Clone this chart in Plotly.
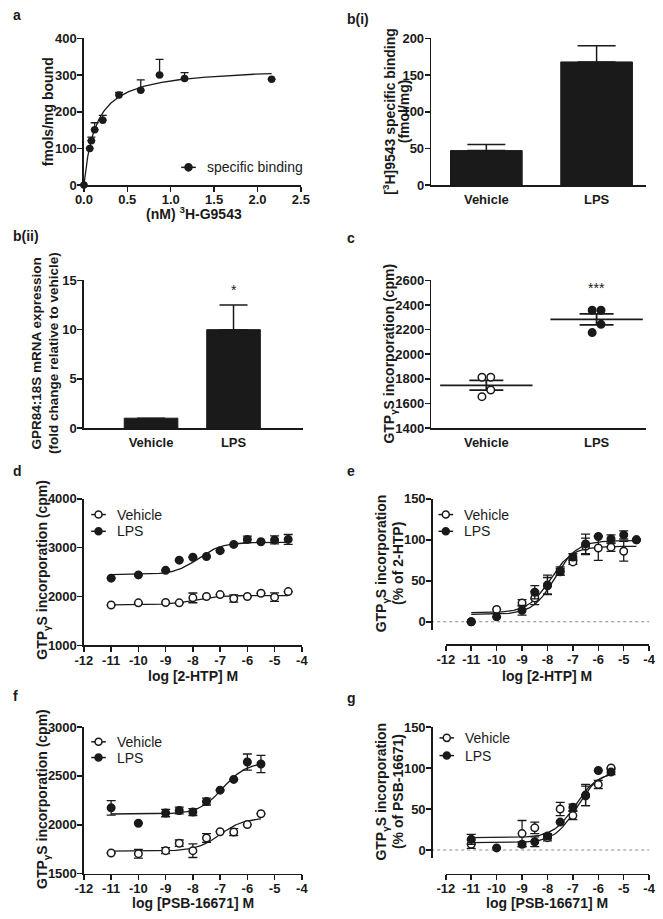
import numpy as np
import plotly.graph_objects as go

W, H = 663, 919
FONT = "Liberation Sans, Arial, sans-serif"
INK = "#1a1a1a"

# ---------------- data ----------------
# a: saturation binding
a_conc = [0.0, 0.067, 0.086, 0.124, 0.217, 0.404, 0.655, 0.872, 1.16, 2.163]
a_bound = [0, 100, 121, 151, 177, 246, 259, 300, 291, 289]
a_err_up = [0, 0, 10, 19, 13, 7, 28, 43, 16, 0]
a_fit = {"Bmax": 324, "Kd": 0.14}

groups = ["Vehicle", "LPS"]
# b(i)
bi_mean = [47, 168]
bi_sem = [8.5, 22]
# b(ii)
bii_mean = [1.0, 10.0]
bii_sem = [0, 2.5]
# c
c_vehicle = [1813, 1813, 1709, 1655]
c_lps = [2358, 2358, 2243, 2176]
c_jitter = [-0.04, 0.04, 0.04, -0.04]

# d: 2-HTP, cpm
log_2htp = [-11, -10, -9, -8.5, -8, -7.5, -7, -6.5, -6, -5.5, -5, -4.5]
d_veh = [1826, 1872, 1879, 1872, 1973, 2000, 2040, 1960, 2000, 2067, 1987, 2101]
d_veh_err = [0, 0, 0, 0, 100, 0, 0, 75, 0, 0, 87, 0]
d_lps = [2376, 2443, 2537, 2745, 2805, 2819, 2940, 3067, 3170, 3121, 3160, 3170]
d_lps_err = [0, 0, 0, 0, 0, 0, 0, 0, 65, 0, 80, 100]
d_fit_veh = {"bottom": 1830, "top": 2020, "logec50": -8.0}
d_fit_lps = {"bottom": 2450, "top": 3110, "logec50": -7.8}

# e: 2-HTP, % of 2-HTP
e_veh = [0, 15, 23, 29, 45, 61, 73, 92, 90, 91, 86, 100]
e_veh_err = [0, 0, 4, 8, 12, 4, 3, 10, 15, 5, 12, 0]
e_lps = [0, 6, 14, 36, 44, 62, 79, 95, 104, 101, 106, 100]
e_lps_err = [0, 0, 6, 8, 10, 5, 4, 12, 0, 5, 5, 0]
e_fit_veh = {"bottom": 11, "top": 92, "logec50": -7.9}
e_fit_lps = {"bottom": 9, "top": 99, "logec50": -7.7}

# f: PSB-16671, cpm
log_psb = [-11, -10, -9, -8.5, -8, -7.5, -7, -6.5, -6, -5.5]
f_veh = [1711, 1704, 1735, 1811, 1735, 1865, 1929, 1925, 2002, 2113]
f_veh_err = [0, 45, 30, 33, 70, 45, 0, 35, 0, 0]
f_lps = [2173, 2016, 2120, 2146, 2130, 2237, 2354, 2464, 2642, 2622]
f_lps_err = [75, 0, 38, 35, 35, 35, 0, 0, 82, 88]
f_fit_veh = {"bottom": 1730, "top": 2070, "logec50": -7.0}
f_fit_lps = {"bottom": 2110, "top": 2640, "logec50": -6.9}

# g: PSB-16671, % of PSB-16671
g_veh = [7, None, 20, 27, 15, 50, 42, 66, 80, 100]
g_veh_err = [5, 0, 16, 7, 4, 8, 5, 12, 5, 0]
g_lps = [13, 2.5, 7, 10, 17, 34, 52, 67, 97, 95]
g_lps_err = [6, 0, 3, 6, 3, 0, 4, 13, 0, 3]
g_fit_veh = {"bottom": 15, "top": 95, "logec50": -6.9}
g_fit_lps = {"bottom": 9, "top": 96, "logec50": -6.85}

# tick values
a_xticks = [0, 0.5, 1, 1.5, 2, 2.5]
a_yticks = [0, 100, 200, 300, 400]
bi_yticks = [0, 50, 100, 150, 200]
bii_yticks = [0, 5, 10, 15]
c_yticks = [1400, 1600, 1800, 2000, 2200, 2400, 2600]
d_yticks = [1000, 2000, 3000, 4000]
f_yticks = [1500, 2000, 2500, 3000]
pct_yticks = [0, 50, 100, 150]
log_xticks = [-12, -11, -10, -9, -8, -7, -6, -5, -4]


# ---------------- helpers ----------------
def px(x):
    return x / W


def py(y):
    return 1 - y / H


def sigmoid(p, lo, hi):
    xs = np.linspace(lo, hi, 200)
    ys = p["bottom"] + (p["top"] - p["bottom"]) / (1 + 10 ** (p["logec50"] - xs))
    return xs, ys


def bold_labels(vals, fmt="{:g}"):
    return ["<b>" + fmt.format(v) + "</b>" for v in vals]


def axis(tickvals, ticktext=None, **kw):
    d = dict(showline=True, linecolor=INK, linewidth=1.5, ticks="outside",
             ticklen=5, tickwidth=1.5, tickcolor=INK, showgrid=False,
             zeroline=False, fixedrange=True, tickvals=tickvals,
             ticktext=ticktext if ticktext is not None else bold_labels(tickvals),
             tickfont=dict(family=FONT, size=13, color=INK))
    d.update(kw)
    return d


def xaxis(tickvals, ticktext=None, **kw):
    kw.setdefault("ticklabelstandoff", -3)
    return axis(tickvals, ticktext, **kw)


def yaxis(tickvals, ticktext=None, **kw):
    kw.setdefault("ticklabelstandoff", -2)
    return axis(tickvals, ticktext, **kw)


fig = go.Figure()
annotations = []
shapes = []


def ann(text, x, y, size=14, bold=True, angle=0, xanchor="center", yanchor="middle"):
    annotations.append(dict(
        text="<b>" + text + "</b>" if bold else text, x=px(x), y=py(y),
        xref="paper", yref="paper",
        showarrow=False, textangle=angle, xanchor=xanchor, yanchor=yanchor,
        font=dict(family=FONT, size=size, color=INK)))


def legend_entry(cx, cy, label, filled):
    shapes.append(dict(type="line", xref="paper", yref="paper",
                       x0=px(cx - 7.5), x1=px(cx + 7.5), y0=py(cy), y1=py(cy),
                       line=dict(color=INK, width=1.5)))
    r = 3.6
    shapes.append(dict(type="circle", xref="paper", yref="paper",
                       x0=px(cx - r), x1=px(cx + r), y0=py(cy - r), y1=py(cy + r),
                       fillcolor=INK if filled else "white",
                       line=dict(color=INK, width=1.5)))
    ann(label, cx + 17, cy, size=14, bold=False, xanchor="left")


def points(x, y, err, filled, xa, ya, size=7.5):
    fig.add_trace(go.Scatter(
        x=x, y=y, mode="markers", xaxis=xa, yaxis=ya, cliponaxis=False,
        marker=dict(symbol="circle", size=size, color=INK if filled else "white",
                    line=dict(color=INK, width=1.5)),
        error_y=dict(type="data", array=err, color=INK, thickness=1.3, width=4.5),
        showlegend=False))


def curve(xs, ys, xa, ya):
    fig.add_trace(go.Scatter(x=xs, y=ys, mode="lines", xaxis=xa, yaxis=ya,
                             line=dict(color=INK, width=1.3), showlegend=False,
                             hoverinfo="skip"))


# ---------------- panel a ----------------
xs = np.linspace(0, max(a_conc), 200)
curve(xs, a_fit["Bmax"] * xs / (a_fit["Kd"] + xs), "x", "y")
fig.add_trace(go.Scatter(
    x=a_conc, y=a_bound, mode="markers", xaxis="x", yaxis="y", cliponaxis=False,
    marker=dict(symbol="circle", size=7.5, color=INK),
    error_y=dict(type="data", symmetric=False, array=a_err_up,
                 arrayminus=[0] * len(a_err_up), color=INK, thickness=1.3, width=4),
    showlegend=False))

# ---------------- panel b(i) ----------------
fig.add_trace(go.Bar(
    x=[0, 1], y=bi_mean, width=0.65, xaxis="x2", yaxis="y2",
    marker=dict(color=INK, line=dict(color=INK, width=1)),
    error_y=dict(type="data", symmetric=False, array=bi_sem, arrayminus=[0, 0],
                 color=INK, thickness=1.5, width=19),
    showlegend=False))

# ---------------- panel b(ii) ----------------
fig.add_trace(go.Bar(
    x=[0, 1], y=bii_mean, width=0.65, xaxis="x3", yaxis="y3",
    marker=dict(color=INK, line=dict(color=INK, width=1)),
    error_y=dict(type="data", symmetric=False, array=bii_sem, arrayminus=[0, 0],
                 color=INK, thickness=1.5, width=14),
    showlegend=False))

# ---------------- panel c ----------------
c_sets = [c_vehicle, c_lps]
c_means = [float(np.mean(v)) for v in c_sets]
c_sems = [float(np.std(v, ddof=1) / np.sqrt(len(v))) for v in c_sets]
fig.add_trace(go.Scatter(
    x=[0, 1], y=c_means, mode="markers", xaxis="x4", yaxis="y4",
    marker=dict(symbol="line-ew", size=66, color=INK, line=dict(color=INK, width=1.8)),
    error_y=dict(type="data", array=c_sems, color=INK, thickness=1.8, width=17),
    showlegend=False))
for i, vals in enumerate(c_sets):
    fig.add_trace(go.Scatter(
        x=[i + j for j in c_jitter], y=vals, mode="markers", xaxis="x4", yaxis="y4",
        marker=dict(symbol="circle", size=7.5, color="white" if i == 0 else INK,
                    line=dict(color=INK, width=1.5)),
        showlegend=False))

# ---------------- panel d ----------------
curve(*sigmoid(d_fit_veh, -11, -4.5), "x5", "y5")
curve(*sigmoid(d_fit_lps, -11, -4.5), "x5", "y5")
points(log_2htp, d_veh, d_veh_err, False, "x5", "y5")
points(log_2htp, d_lps, d_lps_err, True, "x5", "y5")

# ---------------- panel e ----------------
curve(*sigmoid(e_fit_veh, -11, -4.5), "x6", "y6")
curve(*sigmoid(e_fit_lps, -11, -4.5), "x6", "y6")
points(log_2htp, e_veh, e_veh_err, False, "x6", "y6")
points(log_2htp, e_lps, e_lps_err, True, "x6", "y6")

# ---------------- panel f ----------------
curve(*sigmoid(f_fit_veh, -11, -5.5), "x7", "y7")
curve(*sigmoid(f_fit_lps, -11, -5.5), "x7", "y7")
points(log_psb, f_veh, f_veh_err, False, "x7", "y7")
points(log_psb, f_lps, f_lps_err, True, "x7", "y7")

# ---------------- panel g ----------------
curve(*sigmoid(g_fit_veh, -11, -5.5), "x8", "y8")
curve(*sigmoid(g_fit_lps, -11, -5.5), "x8", "y8")
points(log_psb, g_veh, g_veh_err, False, "x8", "y8")
points(log_psb, g_lps, g_lps_err, True, "x8", "y8")

# zero reference lines in e and g
for ya in ("y6", "y8"):
    shapes.append(dict(type="line", xref="paper", yref=ya, x0=px(434), x1=px(658),
                       y0=0, y1=0, line=dict(color="#8a8a8a", width=1.2, dash="dot"),
                       layer="below"))

# ---------------- layout / axes ----------------
cat = bold_labels(groups, "{}")
layout_axes = dict(
    xaxis=xaxis(a_xticks, bold_labels(a_xticks, "{:.1f}"),
                domain=[px(77), px(300)], range=[0, 2.5], anchor="y"),
    yaxis=yaxis(a_yticks, domain=[py(181), py(32)], range=[0, 400], anchor="x"),
    xaxis2=xaxis([0, 1], cat, domain=[px(434), px(655)], range=[-0.5, 1.45],
                 ticks="", anchor="y2", ticklabelstandoff=2),
    yaxis2=yaxis(bi_yticks, domain=[py(181), py(32)], range=[0, 200], anchor="x2"),
    xaxis3=xaxis([0, 1], cat, domain=[px(77), px(302)], range=[-0.814, 1.84],
                 ticks="", anchor="y3", ticklabelstandoff=2),
    yaxis3=yaxis(bii_yticks, domain=[py(428), py(278)], range=[0, 15], anchor="x3"),
    xaxis4=xaxis([0, 1], cat, domain=[px(434), px(655)], range=[-0.5, 1.45],
                 ticks="", anchor="y4", ticklabelstandoff=2),
    yaxis4=yaxis(c_yticks, domain=[py(428), py(278)], range=[1400, 2600], anchor="x4"),
    xaxis5=xaxis(log_xticks, domain=[px(77), px(301)], range=[-12, -4], anchor="y5"),
    yaxis5=yaxis(d_yticks, domain=[py(649), py(500)], range=[1000, 4000], anchor="x5"),
    xaxis6=xaxis(log_xticks, domain=[px(449), px(658)], range=[-12, -4],
                 anchor="free", position=py(648)),
    yaxis6=yaxis(pct_yticks, domain=[py(633.3), py(500)], range=[-10, 150],
                 anchor="free", position=px(434)),
    xaxis7=xaxis(log_xticks, domain=[px(77), px(301)], range=[-12, -4], anchor="y7"),
    yaxis7=yaxis(f_yticks, domain=[py(881), py(732)], range=[1500, 3000], anchor="x7"),
    xaxis8=xaxis(log_xticks, domain=[px(449), px(658)], range=[-12, -4],
                 anchor="free", position=py(881)),
    yaxis8=yaxis(pct_yticks, domain=[py(865.3), py(732)], range=[-10, 150],
                 anchor="free", position=px(434)),
)

# star annotations (data coordinates)
for text, yv, xr, yr in (("***", 212, "x2", "y2"), ("*", 14.0, "x3", "y3"),
                         ("***", 2540, "x4", "y4")):
    annotations.append(dict(text=text, x=1, y=yv, xref=xr, yref=yr, showarrow=False,
                            font=dict(family=FONT, size=14, color=INK)))

# panel letters
for t, x, y in (("a", 2, 8), ("b(i)", 345, 12), ("b(ii)", 2, 233), ("c", 345, 235),
                ("d", 2, 472), ("e", 345, 472), ("f", 2, 700), ("g", 345, 702)):
    ann(t, x, y, size=14, xanchor="left")

# axis titles
GTP = "GTP<sub>γ</sub>S incorporation"
ann("fmols/mg bound", 40, 106, angle=-90)
ann("(nM) <sup>3</sup>H-G9543", 190, 209)
ann("[<sup>3</sup>H]9543 specific binding", 391, 106, angle=-90)
ann("(fmol/mg)", 406, 106, angle=-90)
ann("GPR84:18S mRNA expression", 28, 352, size=13.5, angle=-90)
ann("(fold change relative to vehicle)", 45, 352, size=13.5, angle=-90)
ann(GTP + " (cpm)", 392, 352, angle=-90)
ann(GTP + " (cpm)", 35, 572, angle=-90)
ann("log [2-HTP] M", 189, 680)
ann(GTP, 383, 566, angle=-90)
ann("(% of 2-HTP)", 400, 566, angle=-90)
ann("log [2-HTP] M", 553, 680)
ann(GTP + " (cpm)", 35, 805, angle=-90)
ann("log [PSB-16671] M", 189, 910.5)
ann(GTP, 383, 798, angle=-90)
ann("(% of PSB-16671)", 400, 798, angle=-90)
ann("log [PSB-16671] M", 553, 910.5)

# legends
legend_entry(184.5, 163, "specific binding", True)
legend_entry(92, 516, "Vehicle", False)
legend_entry(92, 533, "LPS", True)
legend_entry(449, 516, "Vehicle", False)
legend_entry(449, 533, "LPS", True)
legend_entry(92, 747, "Vehicle", False)
legend_entry(92, 763, "LPS", True)
legend_entry(450, 743, "Vehicle", False)
legend_entry(450, 761, "LPS", True)

fig.update_layout(
    width=W, height=H, margin=dict(l=0, r=0, t=0, b=0),
    paper_bgcolor="white", plot_bgcolor="white",
    font=dict(family=FONT, color=INK),
    showlegend=False, bargap=0,
    annotations=annotations, shapes=shapes,
    **layout_axes)

fig.write_html("out.html", include_plotlyjs=True,
               config={"displayModeBar": False, "staticPlot": True},
               post_script="document.body.style.margin='0';document.body.style.overflow='hidden';")
